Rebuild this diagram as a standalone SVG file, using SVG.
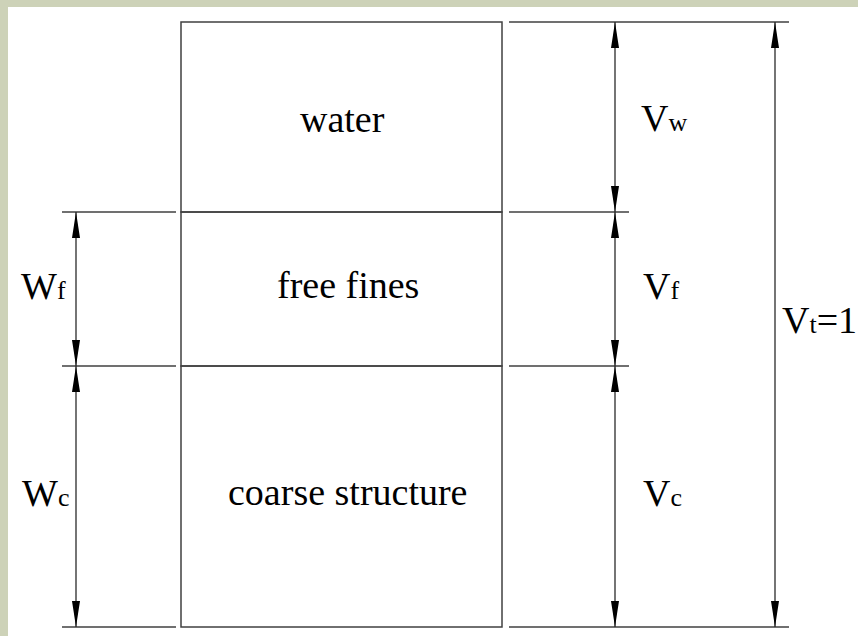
<svg xmlns="http://www.w3.org/2000/svg" width="858" height="636" viewBox="0 0 858 636">
  <style>
    .frame { fill: none; stroke: #404040; stroke-width: 1.5; }
    .ext { stroke: #404040; stroke-width: 1.5; fill: none; }
    .dim { stroke: #2a2a2a; stroke-width: 1.3; fill: none; marker-start: url(#head); marker-end: url(#head); }
    .label { font-family: "Liberation Serif", "Times New Roman", serif; font-size: 38px; fill: #000; }
    .sub { font-size: 26px; }
  </style>
  <defs>
    <marker id="head" viewBox="0 0 26 8" refX="26" refY="4" markerWidth="26" markerHeight="8" markerUnits="userSpaceOnUse" orient="auto-start-reverse">
      <path d="M0,0 L26,4 L0,8 Z" fill="#000"/>
    </marker>
  </defs>

  <!-- page background with tinted margin -->
  <rect x="0" y="0" width="858" height="636" fill="#CDD2B8"/>
  <rect x="8" y="7" width="850" height="629" fill="#FFFFFF"/>

  <!-- phase column -->
  <g id="water">
    <rect class="frame" x="181" y="22" width="321" height="190"/>
    <text class="label" x="300" y="132">water</text>
  </g>
  <g id="free-fines">
    <rect class="frame" x="181" y="212" width="321" height="154"/>
    <text class="label" x="277" y="298">free fines</text>
  </g>
  <g id="coarse-structure">
    <rect class="frame" x="181" y="366" width="321" height="261"/>
    <text class="label" x="228" y="505">coarse structure</text>
  </g>

  <!-- extension and dimension lines -->
  <g id="connectors">
    <line class="ext" x1="62" y1="212" x2="176" y2="212"/>
    <line class="ext" x1="62" y1="366" x2="176" y2="366"/>
    <line class="ext" x1="62" y1="627" x2="176" y2="627"/>
    <line class="ext" x1="509" y1="22" x2="789" y2="22"/>
    <line class="ext" x1="509" y1="212" x2="629" y2="212"/>
    <line class="ext" x1="509" y1="366" x2="629" y2="366"/>
    <line class="ext" x1="509" y1="627" x2="789" y2="627"/>

    <line class="dim" x1="76" y1="212" x2="76" y2="366"/>
    <line class="dim" x1="76" y1="366" x2="76" y2="627"/>
    <line class="dim" x1="615" y1="22" x2="615" y2="212"/>
    <line class="dim" x1="615" y1="212" x2="615" y2="366"/>
    <line class="dim" x1="615" y1="366" x2="615" y2="627"/>
    <line class="dim" x1="775" y1="22" x2="775" y2="627"/>
  </g>

  <!-- dimension labels -->
  <g id="Wf"><text class="label" x="21" y="299">W<tspan class="sub">f</tspan></text></g>
  <g id="Wc"><text class="label" x="22" y="506">W<tspan class="sub">c</tspan></text></g>
  <g id="Vw"><text class="label" x="641" y="131">V<tspan class="sub">w</tspan></text></g>
  <g id="Vf"><text class="label" x="643" y="299">V<tspan class="sub">f</tspan></text></g>
  <g id="Vc"><text class="label" x="643" y="506">V<tspan class="sub">c</tspan></text></g>
  <g id="Vt"><text class="label" x="782" y="333" font-size="37">V<tspan class="sub">t</tspan>=1</text></g>
</svg>
